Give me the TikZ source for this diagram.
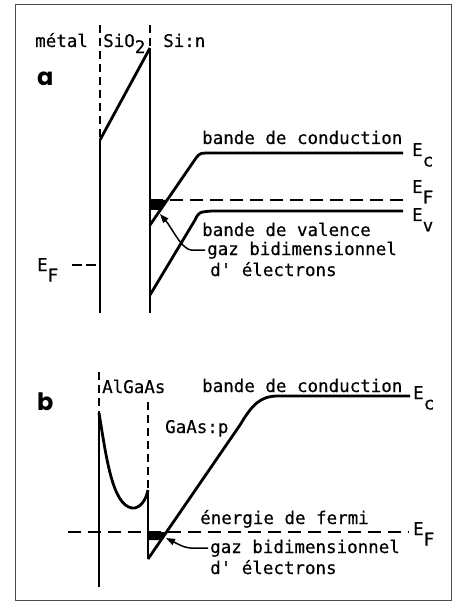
\documentclass[tikz,border=0pt]{standalone}
\usepackage{fontspec}
\setmonofont[FakeBold=0.4]{DejaVu Sans Mono}
\newfontfamily\panelfont{Poppins}
\usepackage{tikz}
\usetikzlibrary{arrows.meta}

\newcommand{\lowr}[1]{\raisebox{-0.6em}{#1}}
\newcommand{\lowtwo}[1]{\raisebox{-0.35em}{#1}}

\begin{document}
\begin{tikzpicture}[x=1pt, y=-1pt,
    every node/.style={font=\fontsize{17.5}{21}\selectfont\ttfamily, inner sep=0pt, anchor=base west},
    panel/.style={font=\fontsize{24}{24}\selectfont\panelfont\bfseries},
    band/.style={line width=2.8pt, line join=round},
    wall/.style={line width=2.2pt},
    iface/.style={line width=1.6pt, dash pattern=on 8pt off 5pt},
    fermi/.style={line width=1.7pt, dash pattern=on 13pt off 7pt},
    pointer/.style={-{Triangle[length=9pt, width=6.5pt]}, line width=1.5pt},
]
\useasboundingbox (0,0) rectangle (457,601);
\draw[line width=1pt, black!70] (15,5) rectangle (451,600);

% Panel a (metal / SiO2 / Si:n)
\node (metal) at (35,47) {métal};
\node (oxide) at (103,47) {SiO\lowtwo{2}};
\node (silicon) at (163,47) {Si:n};
\node[panel] (panela) at (37,86) {a};

% electron gas a
\fill (150,200) -- (167.2,200) -- (160.3,210) -- (150,210) -- cycle;

% interfaces a
\draw[iface] (100,25) -- (100,140);
\draw[iface] (150,25) -- (150,48);
\draw[wall] (100,140) -- (100,313);
\draw[wall] (150,48) -- (150,313);
\draw[band] (100,140) -- (150,48);

% metal Fermi level
\draw[line width=1.6pt, dash pattern=on 10pt off 4pt] (72,265) -- (100,265);
\node (efmetal) at (37,271) {E\lowr{F}};

% bands a
\draw[band] (150,225) -- (196,158) .. controls (200,153) .. (212,153) -- (403,153);
\draw[fermi] (150,200) -- (408,200);
\draw[band] (150,295) -- (195,220) .. controls (199,212) .. (212,211) -- (403,211);

\node (conda) at (202,144) {bande de conduction};
\node (eca) at (412,156) {E\lowr{c}};
\node (efa) at (412,193) {E\lowr{F}};
\node (eva) at (412,221) {E\lowr{v}};
\node (vala) at (202,236) {bande de valence};
\node (gaza) at (207,255) {gaz bidimensionnel};
\node (elea) at (210,276) {d' électrons};

\coordinate (gasa) at (160,214);
\draw[pointer] ([xshift=-2pt]gaza.west) -- ++(-13,0) .. controls +(-10,0) and +(12,14) .. (gasa);

% Panel b (AlGaAs / GaAs:p)
\node[panel] (panelb) at (37,410) {b};
\node (algaas) at (102,393) {AlGaAs};
\node (condb) at (202,392) {bande de conduction};
\node (ecb) at (413,399) {E\lowr{c}};
\node (gaasp) at (165,433) {GaAs:p};
\node (fermib) at (200,524) {énergie de fermi};
\node (efb) at (413,535) {E\lowr{F}};
\node (gazb) at (210,553) {gaz bidimensionnel};
\node (eleb) at (210,574) {d' électrons};

% electron gas b
\fill (148,532) -- (166.5,532) -- (161,540) -- (148,540) -- cycle;

% interfaces b
\draw[iface] (99,372) -- (99,413);
\draw[iface] (148,402) -- (148,490);
\draw[wall] (99,413) -- (99,587);
\draw[wall] (148,490) -- (148,559);

% bands b
\draw[band] (99,413) .. controls (106,455) and (112,505) .. (132,508)
  .. controls (140,509) and (146,500) .. (148,490);
\draw[band] (148,559) -- (240,425) .. controls (252,405) and (260,396) .. (278,396) -- (410,396);
\draw[fermi] (68,532) -- (409,532);

\coordinate (gasb) at (166,538);
\draw[pointer] ([xshift=-2pt]gazb.west) -- ++(-14,0) .. controls +(-10,0) and +(12,6) .. (gasb);
\end{tikzpicture}
\end{document}
